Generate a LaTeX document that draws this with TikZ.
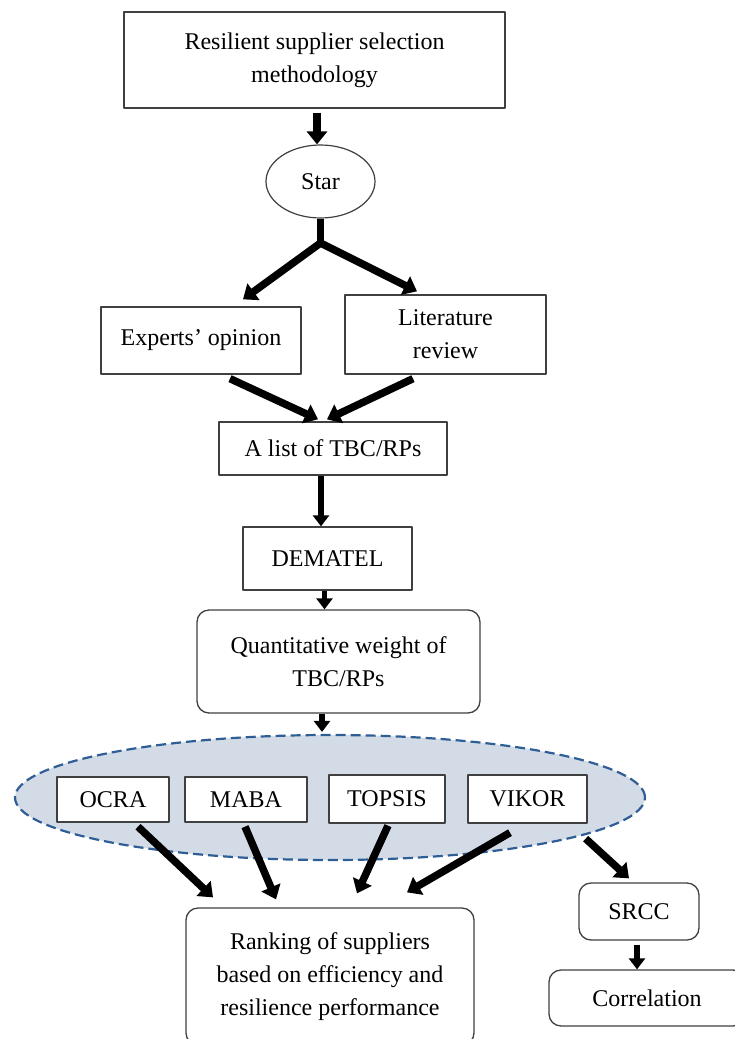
\documentclass[tikz,border=0pt]{standalone}
\usepackage{fontspec}
\setmainfont{Liberation Serif}
\usetikzlibrary{arrows.meta,shapes.geometric}

\definecolor{cloudfill}{HTML}{D3DCE6}
\definecolor{dashblue}{HTML}{2F5D95}

\tikzset{
  box/.style={draw=black!75,line width=1.3pt,fill=white,inner sep=0pt,align=center,
    font=\fontsize{24}{33}\selectfont},
  rbox/.style={box,rounded corners=12pt},
  arr/.style={line width=7.5pt,-{Triangle[width=20pt,length=13pt]}},
  arrs/.style={line width=5.5pt,-{Triangle[width=16pt,length=11pt]}}
}

\begin{document}
\begin{tikzpicture}[line join=round,x=1pt,y=-1pt]
     \useasboundingbox (0,0) rectangle (735,1039);
     \clip (0,0) rectangle (735,1039);

     % oberer Teil
     \node[box,minimum width=381pt,minimum height=96pt] (title) at (314.5,60) {Resilient supplier selection\\methodology};
     \node[box,ellipse,line width=1.2pt,minimum width=109pt,minimum height=73pt] (star) at (320.5,181.5) {Star};
     \coordinate (fork) at (320.5,243); % Verzweigung
     \node[box,minimum width=200pt,minimum height=67pt] (experts) at (201,340.5) {Experts’ opinion};
     \node[box,minimum width=201pt,minimum height=79pt] (lit) at (445.5,334.5) {Literature\\review};
     \node[box,minimum width=228pt,minimum height=53pt] (list) at (333,448.5) {A list of TBC/RPs};
     \node[box,minimum width=169pt,minimum height=63pt] (dematel) at (327.5,558.5) {DEMATEL};
     \node[rbox,minimum width=283pt,minimum height=103pt] (quant) at (338.5,661.5) {Quantitative weight of\\TBC/RPs};

     % Methoden
     \node[ellipse,draw=dashblue,dash pattern=on 10pt off 5pt,line width=2.2pt,fill=cloudfill,
           minimum width=630pt,minimum height=125pt] (cloud) at (330,797.5) {};
     \node[box,minimum width=112pt,minimum height=45pt] (ocra) at (113,799.5) {OCRA};
     \node[box,minimum width=122pt,minimum height=45pt] (maba) at (246,799.5) {MABA};
     \node[box,minimum width=116pt,minimum height=48pt] (topsis) at (387,799) {TOPSIS};
     \node[box,minimum width=119pt,minimum height=48pt] (vikor) at (527.5,799) {VIKOR};

     % unterer Teil
     \node[rbox,minimum width=288pt,minimum height=137pt] (rank) at (330,976.5) {Ranking of suppliers\\based on efficiency and\\resilience performance};
     \node[rbox,minimum width=120pt,minimum height=57pt] (srcc) at (639,911.5) {SRCC};
     \node[rbox,minimum width=196pt,minimum height=56pt] (corr) at (647,998) {Correlation};

     % Pfeile
     \draw[arr] ([xshift=2.5pt,yshift=-4pt]title.south) -- ([xshift=-3.5pt]star.north);
     \draw[line width=7.5pt] (star.south) -- (fork);
     \draw[arr,line cap=round] (fork) -- ([xshift=42pt,yshift=7pt]experts.north);
     \draw[arr,line cap=round] (fork) -- ([xshift=-28.5pt,yshift=3pt]lit.north);
     \draw[arr] ([xshift=29pt,yshift=-4pt]experts.south) -- ([xshift=-15pt,yshift=2pt]list.north);
     \draw[arr] ([xshift=-32.5pt,yshift=-4pt]lit.south) -- ([xshift=-6pt,yshift=2pt]list.north);
     \draw[arrs] ([xshift=-12pt]list.south) -- ([xshift=-6.5pt]dematel.north);
     \draw[arrs] ([xshift=-3pt]dematel.south) -- ([xshift=-14pt]quant.north);
     \draw[arrs] ([xshift=-16.5pt]quant.south) -- ([xshift=-8pt,yshift=2pt]cloud.north);

     \draw[arr] ([xshift=25pt,yshift=-4pt]ocra.south) -- ([xshift=-117pt,yshift=10pt]rank.north);
     \draw[arr] ([xshift=-1pt,yshift=-4pt]maba.south) -- ([xshift=-54pt,yshift=8pt]rank.north);
     \draw[arr] ([xshift=1pt,yshift=-2pt]topsis.south) -- ([xshift=27pt,yshift=14pt]rank.north);
     \draw[arr] ([xshift=-17.5pt,yshift=-9pt]vikor.south) -- ([xshift=77pt,yshift=15pt]rank.north);
     \draw[arr] ([xshift=-2pt,yshift=-15pt]vikor.south east) -- ([xshift=-10pt,yshift=4pt]srcc.north);
     \draw[arrs] ([xshift=-2pt,yshift=-4pt]srcc.south) -- ([xshift=-10pt]corr.north);

\end{tikzpicture}
\end{document}
